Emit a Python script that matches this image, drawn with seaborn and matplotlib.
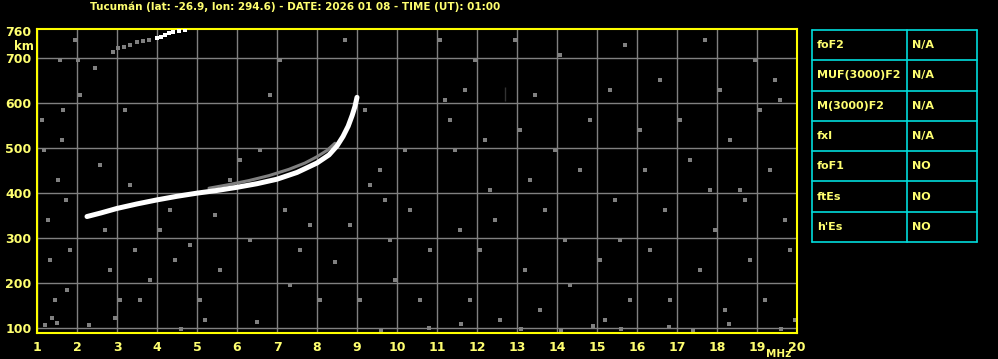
import matplotlib
matplotlib.use("Agg")
import matplotlib.pyplot as plt
import seaborn as sns
import pandas as pd

# ---------------- data ----------------
title = "Tucumán (lat: -26.9, lon: 294.6) - DATE: 2026 01 08 - TIME (UT): 01:00"
x_ticks = list(range(1, 21))
x_tick_labels = [str(v) for v in x_ticks]
y_ticks = [100, 200, 300, 400, 500, 600, 700, 760]
y_tick_labels = [str(v) for v in y_ticks]

# main F-trace (O-mode echo)
trace_f = [2.25, 2.6, 3.0, 3.5, 4.0, 4.5, 5.0, 5.5, 6.0, 6.5, 7.0, 7.5, 8.0, 8.3, 8.5, 8.65, 8.78, 8.88, 8.95, 9.0]
trace_h = [347, 355, 365, 375, 384, 392, 399, 405, 412, 420, 430, 445, 466, 484, 504, 525, 548, 572, 592, 612]

# weaker companion echo just above the trace
fringe_f = [5.3, 5.8, 6.3, 6.8, 7.3, 7.7, 8.0, 8.25, 8.45]
fringe_h = [410, 418, 427, 438, 452, 466, 480, 494, 510]

# second-hop trace near the top
hop2_f = [2.9, 3.03, 3.18, 3.33, 3.5, 3.65, 3.8, 3.99, 4.1, 4.2, 4.3, 4.4, 4.55, 4.7]
hop2_h = [712, 722, 725, 729, 734, 737, 740, 744, 747, 750, 754, 757, 760, 762]

# short isolated echo
echo_f = [12.7, 12.7]
echo_h = [603, 635]

# background noise speckles
noise_f = [1.12, 1.18, 1.28, 1.33, 1.45, 1.58, 1.65, 1.62, 1.52, 1.72, 1.82, 1.2, 1.38, 1.75, 1.95, 2.02, 2.08,
           2.45, 2.58, 2.7, 2.82, 2.95, 3.08, 3.2, 3.32, 3.45, 3.58, 3.82, 4.08, 4.32, 4.45, 4.82, 5.08, 5.2,
           5.45, 5.58, 5.82, 6.08, 6.32, 6.58, 6.82, 7.08, 7.2, 7.32, 7.58, 7.82, 8.08, 8.45, 8.7, 8.82, 9.08,
           9.2, 9.32, 9.58, 9.7, 9.82, 9.95, 10.2, 10.32, 10.58, 10.82, 11.08, 11.2, 11.32, 11.45, 11.58, 11.7,
           11.82, 11.95, 12.08, 12.2, 12.32, 12.45, 12.58, 12.95, 13.08, 13.2, 13.32, 13.45, 13.58, 13.7, 13.95,
           14.08, 14.2, 14.32, 14.58, 14.82, 15.08, 15.2, 15.32, 15.45, 15.58, 15.7, 15.82, 16.08, 16.2, 16.32,
           16.58, 16.7, 16.82, 17.08, 17.32, 17.58, 17.7, 17.82, 17.95, 18.08, 18.2, 18.32, 18.58, 18.7, 18.82,
           18.95, 19.08, 19.2, 19.32, 19.45, 19.58, 19.7, 19.82, 19.95,
           1.5, 2.3, 4.6, 6.5, 9.6, 10.8, 11.6, 13.1, 14.1, 14.9, 15.6, 16.8, 17.4, 18.3, 19.6]
noise_h = [562, 495, 339, 250, 161, 696, 584, 518, 428, 384, 273, 106, 121, 184, 740, 696, 618,
           678, 462, 317, 228, 121, 161, 584, 417, 273, 161, 206, 317, 362, 250, 284, 161, 117,
           351, 228, 428, 473, 295, 495, 618, 696, 362, 195, 273, 328, 161, 246, 740, 328, 161,
           584, 417, 451, 384, 295, 206, 495, 362, 161, 273, 740, 607, 562, 495, 317, 629,
           161, 696, 273, 518, 406, 339, 117, 740, 540, 228, 428, 618, 139, 362, 495,
           707, 295, 195, 451, 562, 250, 117, 629, 384, 295, 729, 161, 540, 451, 273,
           651, 362, 161, 562, 473, 228, 740, 406, 317, 629, 139, 518, 406, 384, 250,
           696, 584, 161, 451, 651, 607, 339, 273, 117,
           110, 105, 98, 112, 95, 100, 108, 98, 95, 104, 97, 101, 94, 108, 96]

table_params = ["foF2", "MUF(3000)F2", "M(3000)F2", "fxI", "foF1", "ftEs", "h'Es"]
table_values = ["N/A", "N/A", "N/A", "N/A", "NO", "NO", "NO"]

# ---------------- style ----------------
YEL = "#FFFF70"
BORDER = "#FFFF00"
GRID = "#808080"
CYAN = "#00DCDC"

sns.set_style("dark", rc={"axes.facecolor": "black", "figure.facecolor": "black",
                          "axes.grid": False})
plt.rcParams["font.family"] = ["DejaVu Sans"]

fig = plt.figure(figsize=(9.98, 3.59), dpi=100)
fig.patch.set_facecolor("black")
ax = fig.add_axes([37 / 998, 1 - 333 / 359, 760 / 998, 304 / 359])
ax.set_facecolor("black")

# grid
for xv in x_ticks:
    ax.axvline(xv, color=GRID, lw=1.0, zorder=1)
for yv in y_ticks[:-1]:
    ax.axhline(yv, color=GRID, lw=1.0, zorder=1)

noise_df = pd.DataFrame({"f": noise_f, "h": noise_h})
sns.scatterplot(data=noise_df, x="f", y="h", ax=ax, marker="s", s=5, color=GRID,
                linewidth=0, zorder=2, legend=False)

fr_df = pd.DataFrame({"f": fringe_f, "h": fringe_h})
sns.lineplot(data=fr_df, x="f", y="h", ax=ax, color=GRID, lw=2.2, sort=False, zorder=3)

tr_df = pd.DataFrame({"f": trace_f, "h": trace_h})
sns.lineplot(data=tr_df, x="f", y="h", ax=ax, color="white", lw=3.6, sort=False, zorder=4)

hop_df = pd.DataFrame({"f": hop2_f, "h": hop2_h})
sns.scatterplot(data=hop_df.iloc[:8], x="f", y="h", ax=ax, marker="s", s=7, color=GRID,
                linewidth=0, zorder=3, legend=False)
sns.scatterplot(data=hop_df.iloc[7:], x="f", y="h", ax=ax, marker="s", s=9, color="white",
                linewidth=0, zorder=4, legend=False)

echo_df = pd.DataFrame({"f": echo_f, "h": echo_h})
sns.lineplot(data=echo_df, x="f", y="h", ax=ax, color="white", lw=2.0, sort=False, zorder=4)

ax.set_xlim(1, 20)
ax.set_ylim(88, 764)
ax.set_xlabel("")
ax.set_ylabel("")
ax.set_xticks(x_ticks)
ax.set_xticklabels(x_tick_labels)
ax.set_yticks(y_ticks)
ax.set_yticklabels(y_tick_labels)
ax.tick_params(axis="both", length=0, colors=YEL, labelsize=9)
ax.tick_params(axis="x", pad=6)
ax.tick_params(axis="y", pad=4)
for lab in ax.get_xticklabels() + ax.get_yticklabels():
    lab.set_fontweight("bold")
    lab.set_color(YEL)
for sp in ax.spines.values():
    sp.set_visible(True)
    sp.set_color(BORDER)
    sp.set_linewidth(1.5)

fig.text(295 / 998, 1 - 7 / 359, title, color=YEL, fontsize=7.5, fontweight="bold",
         ha="center", va="center")
fig.text(14 / 998, 1 - 46 / 359, "km", color=YEL, fontsize=8.5, fontweight="bold",
         ha="left", va="center")
fig.text(779 / 998, 1 - 354 / 359, "MHz", color=YEL, fontsize=7.5, fontweight="bold",
         ha="center", va="center")

# parameter table
tax = fig.add_axes([812 / 998, 1 - 242 / 359, 165 / 998, 212 / 359])
tax.set_xlim(0, 1)
tax.set_ylim(0, len(table_params))
tax.axis("off")
n = len(table_params)
for i in range(n + 1):
    tax.plot([0, 1], [i, i], color=CYAN, lw=1.2, clip_on=False)
split = (907 - 812) / 165
for xv in [0, split, 1]:
    tax.plot([xv, xv], [0, n], color=CYAN, lw=1.2, clip_on=False)
for i, (p, v) in enumerate(zip(table_params, table_values)):
    yc = n - i - 0.5
    tax.text(0.03, yc, p, color=YEL, fontsize=8, fontweight="bold", ha="left", va="center")
    tax.text(split + 0.03, yc, v, color=YEL, fontsize=8, fontweight="bold", ha="left", va="center")

fig.savefig("out.png", dpi=100, facecolor="black")
